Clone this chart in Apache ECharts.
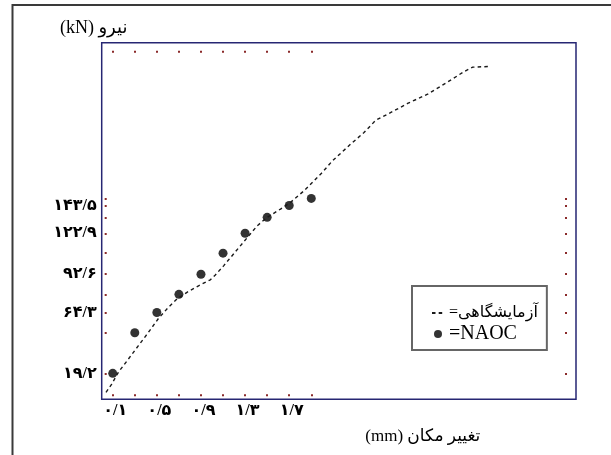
<!DOCTYPE html>
<html>
<head>
<meta charset="utf-8">
<script src="https://cdn.jsdelivr.net/npm/echarts@6/dist/echarts.min.js"></script>
<style>
html,body{margin:0;padding:0;background:#fff;}
#chart{width:611px;height:455px;}
</style>
</head>
<body>
<div id="chart"></div>
<script>
// ---- data ----
const xTickValues = [0.1, 0.3, 0.5, 0.7, 0.9, 1.1, 1.3, 1.5, 1.7, 1.9];
const xLabelValues = [0.1, 0.5, 0.9, 1.3, 1.7];
const naocX = [0.1, 0.3, 0.5, 0.7, 0.9, 1.1, 1.3, 1.5, 1.7, 1.9];
const naocY = [19.2, 49.3, 64.3, 77.7, 92.6, 108.2, 122.9, 134.7, 143.5, 148.7];
const yTickValues = [19.2, 49.3, 64.3, 77.7, 92.6, 108.2, 122.9, 134.7, 143.5, 148.7];
const yLabelValues = [19.2, 64.3, 92.6, 122.9, 143.5];
const expX = [0.039, 0.091, 0.151, 0.242, 0.333, 0.424, 0.515, 0.605, 0.682, 0.773, 0.878, 0.985, 1.03, 1.105, 1.257, 1.409, 1.5, 1.621, 1.712, 1.833, 2.0, 2.091, 2.257, 2.378, 2.485, 2.591, 2.773, 2.955, 3.136, 3.287, 3.364, 3.52];
const expY = [5.2, 11.3, 20.0, 29.8, 39.7, 49.6, 59.9, 68.1, 74.2, 79.2, 84.0, 88.5, 92.0, 98.8, 113.6, 128.4, 134.7, 140.8, 145.8, 154.3, 168.0, 176.5, 188.9, 197.5, 206.6, 211.0, 219.0, 225.9, 234.9, 242.7, 245.9, 246.4];
const seriesNames = ['آزمایشگاهی', 'NAOC'];
const xName = '(mm) تغییر مکان';
const yName = '(kN) نیرو';

const FA = ['۰','۱','۲','۳','۴','۵','۶','۷','۸','۹'];
function fa(v) {
  return v.toFixed(1).replace(/[0-9]/g, d => FA[+d]).replace('.', '/');
}
const FONT = "'Liberation Serif','DejaVu Sans',serif";
const TICK = '#8a2a2a';
const X_MIN = 0, X_MAX = 4.3, Y_MIN = 0, Y_MAX = 264;
const tickStyle = {show: true, inside: true, length: 2, lineStyle: {color: TICK, width: 2}};

const chart = echarts.init(document.getElementById('chart'), null, {renderer: 'canvas'});
chart.setOption({
  animation: false,
  backgroundColor: '#fff',
  grid: {left: 101.7, top: 42.7, right: 35, bottom: 55.7, show: true,
         borderColor: '#262673', borderWidth: 1.5, backgroundColor: 'transparent'},
  graphic: [{
    type: 'polyline', silent: true,
    shape: {points: [[12.5, 455], [12.5, 5], [611, 5]]},
    style: {stroke: '#3a3a3a', lineWidth: 2, fill: null}
  }],
  xAxis: [{
    type: 'value', min: X_MIN, max: X_MAX, position: 'bottom', offset: -3,
    splitLine: {show: false}, axisLine: {show: false, onZero: false},
    axisTick: Object.assign({customValues: xTickValues}, tickStyle),
    axisLabel: {customValues: xLabelValues, formatter: fa, margin: 7, padding: [0, 0, 0, 5],
                color: '#000', fontSize: 16, fontWeight: 'bold', fontFamily: FONT},
    name: xName, nameLocation: 'middle', nameGap: 32, nameMoveOverlap: false,
    nameTextStyle: {color: '#000', fontSize: 17, fontFamily: FONT, padding: [0, 0, 0, 168]}
  }, {
    type: 'value', min: X_MIN, max: X_MAX, position: 'top', offset: -8,
    splitLine: {show: false}, axisLine: {show: false, onZero: false}, axisLabel: {show: false},
    axisTick: Object.assign({customValues: xTickValues}, tickStyle)
  }],
  yAxis: [{
    type: 'value', min: Y_MIN, max: Y_MAX, position: 'left', offset: -3,
    splitLine: {show: false}, axisLine: {show: false, onZero: false},
    axisTick: Object.assign({customValues: yTickValues}, tickStyle),
    axisLabel: {customValues: yLabelValues, formatter: fa, margin: 8, padding: [4, 0, 0, 0],
                color: '#000', fontSize: 16, fontWeight: 'bold', fontFamily: FONT},
    name: yName, nameLocation: 'end', nameGap: 5, nameMoveOverlap: false,
    nameTextStyle: {color: '#000', fontSize: 18, fontFamily: FONT, align: 'center', padding: [0, 22, 0, 0]}
  }, {
    type: 'value', min: Y_MIN, max: Y_MAX, position: 'right', offset: -9,
    splitLine: {show: false}, axisLine: {show: false, onZero: false}, axisLabel: {show: false},
    axisTick: Object.assign({customValues: yTickValues}, tickStyle)
  }],
  legend: {
    orient: 'vertical', left: 412, top: 286, itemWidth: 12, itemHeight: 8, itemGap: 3,
    padding: [19, 9, 6, 19],
    borderColor: '#666', borderWidth: 2, backgroundColor: '#fff',
    formatter: n => n === seriesNames[1] ? '{en|=' + n + '}' : '{fa|=' + n + '}',
    textStyle: {color: '#000', fontFamily: FONT,
      rich: {
        fa: {fontSize: 16, fontFamily: FONT, color: '#000', height: 20},
        en: {fontSize: 20, fontFamily: FONT, color: '#000', height: 20}
      }},
    data: [
      {name: seriesNames[0], itemStyle: {color: 'rgba(0,0,0,0)', opacity: 0, borderWidth: 0}},
      {name: seriesNames[1], icon: 'circle'}
    ]
  },
  series: [{
    name: seriesNames[0], type: 'line', xAxisIndex: 0, yAxisIndex: 0,
    data: expX.map((x, i) => [x, expY[i]]),
    showSymbol: false, symbol: 'none', smooth: false,
    lineStyle: {color: '#1a1a1a', width: 1.4, type: [3.5, 3.2]},
    itemStyle: {color: '#1a1a1a'}
  }, {
    name: seriesNames[1], type: 'scatter', xAxisIndex: 0, yAxisIndex: 0,
    data: naocX.map((x, i) => [x, naocY[i]]),
    symbol: 'circle', symbolSize: 9,
    itemStyle: {color: '#000'}
  }]
});
</script>
</body>
</html>
